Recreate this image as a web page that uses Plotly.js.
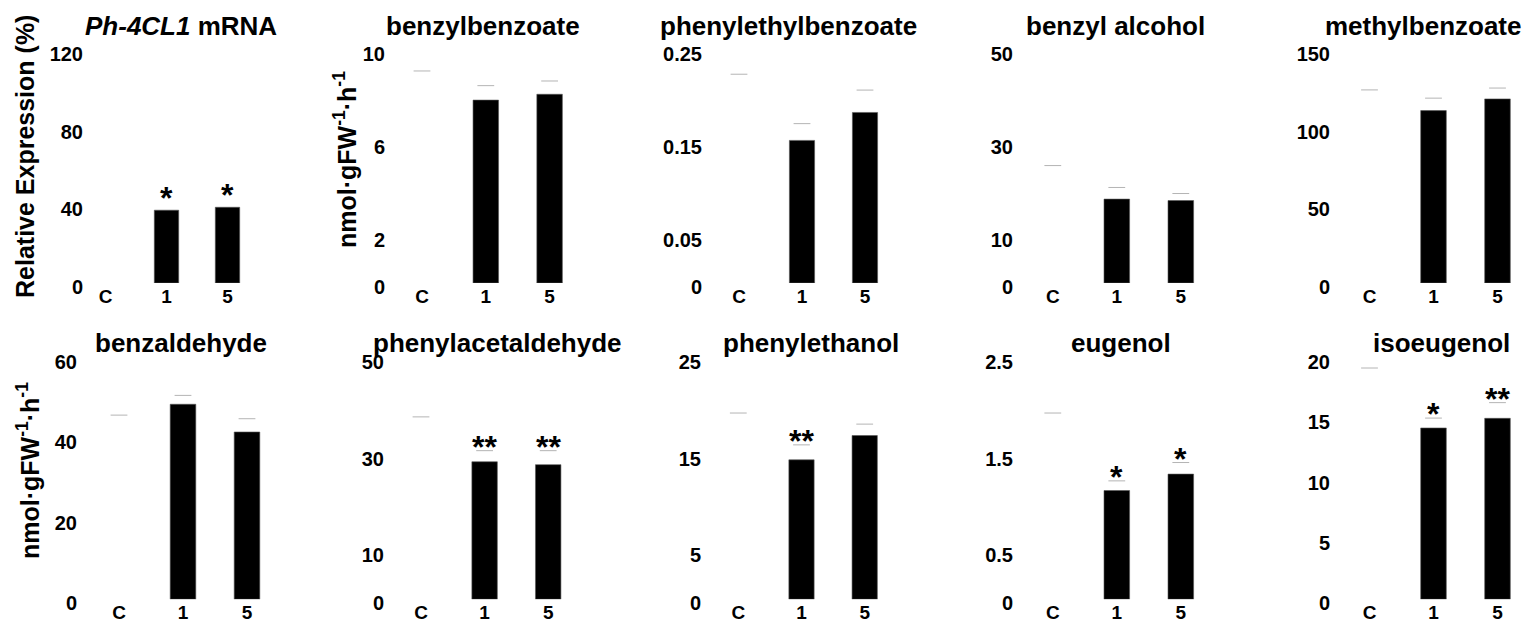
<!DOCTYPE html>
<html><head><meta charset="utf-8">
<script src="https://cdn.plot.ly/plotly-3.0.1.min.js"></script>
<style>html,body{margin:0;padding:0;background:#fff}#chart{width:1526px;height:624px}</style>
</head><body><div id="chart"></div>
<script>
// ---- data ----
const titles = ['<i>Ph-4CL1</i> mRNA','benzylbenzoate','phenylethylbenzoate','benzyl alcohol','methylbenzoate',
                'benzaldehyde','phenylacetaldehyde','phenylethanol','eugenol','isoeugenol'];
const categories = ['C','1','5'];
const meanC = [100, 8.6, 0.200, 22, 117, 42, 35, 17.5, 1.75, 17.5];
const mean1 = [37.5, 7.85, 0.153, 18.0, 111, 48.5, 28.5, 14.45, 1.127, 14.2];
const mean5 = [39, 8.1, 0.183, 17.7, 118.5, 41.6, 27.9, 16.97, 1.297, 15.0];
const errC = [null, 0.5, 0.024, 3.2, 7.3, 3.8, 2.8, 1.8, 0.18, 1.67];
const err1 = [null, 0.62, 0.018, 2.5, 8, 2.2, 2.3, 1.55, 0.1, 0.82];
const err5 = [null, 0.57, 0.024, 1.5, 7, 3.3, 2.9, 1.18, 0.12, 1.3];
const yMax = [120, 10, 0.25, 50, 150, 60, 50, 25, 2.5, 20];
const tickVals = [[0,40,80,120],[0,2,6,10],[0,0.05,0.15,0.25],[0,10,30,50],[0,50,100,150],
                  [0,20,40,60],[0,10,30,50],[0,5,15,25],[0,0.5,1.5,2.5],[0,5,10,15,20]];
const stars1 = ['*','','','','','','**','**','*','*'];
const stars5 = ['*','','','','','','**','','*','**'];
const yTitleRel = 'Relative Expression (%)';
const yTitleRate = 'nmol·gFW<sup>-1</sup>·h<sup>-1</sup>';

// ---- layout geometry (pixels) ----
const W = 1526, H = 624;
const FONT = 'Liberation Sans, Arial, Helvetica, sans-serif';
// [left px, C centre px, category spacing px, right px]
const geo = [
  [84, 105.5, 61, 258], [386, 422, 63.8, 581.5], [703, 739, 63, 896], [1014, 1052.8, 64, 1212.8], [1331, 1369.5, 64, 1526],
  [78, 119, 64, 279], [385, 421, 63.6, 580], [702, 738.3, 63.2, 895], [1014, 1052.8, 64, 1212.8], [1331, 1369.5, 64, 1526]
];
const rowPx = [[283, 50], [599.3, 358]];
const titlePos = [[181,26],[483,26],[788,26],[1115,26],[1423,26],[181,343],[497,343],[811,343],[1121,343],[1441,343]];

const px = x => x / W, py = y => 1 - y / H;

const traces = [];
const layout = {
  width: W, height: H, margin: {l:0, r:0, t:0, b:0},
  paper_bgcolor: '#fff', plot_bgcolor: 'rgba(0,0,0,0)', showlegend: false,
  bargap: 0, annotations: []
};

for (let i = 0; i < 10; i++) {
  const n = i + 1;
  const xa = 'x' + (n === 1 ? '' : n), ya = 'y' + (n === 1 ? '' : n);
  const xk = 'xaxis' + (n === 1 ? '' : n), yk = 'yaxis' + (n === 1 ? '' : n);
  const vals = [meanC[i], mean1[i], mean5[i]];
  const errs = [errC[i], err1[i], err5[i]];
  traces.push({
    type: 'bar', x: categories, y: vals, xaxis: xa, yaxis: ya, width: 0.4,
    marker: {color: ['#ffffff', '#000000', '#000000'], line: {color: ['#ffffff', '#555', '#555'], width: 0.6}},
    hoverinfo: 'x+y'
  });
  const caps = vals.map((v, k) => errs[k] == null ? null : v + errs[k]);
  traces.push({
    type: 'scatter', mode: 'markers', x: categories, y: caps, xaxis: xa, yaxis: ya,
    marker: {symbol: 'line-ew', size: 12, line: {color: '#b4b4b4', width: 1}}, hoverinfo: 'skip'
  });
  const [L, c0, s, R] = geo[i];
  const row = i < 5 ? 0 : 1;
  const [yb, yt] = rowPx[row];
  layout[xk] = {
    domain: [px(L), px(R)], range: [(L - c0) / s, (R - c0) / s], anchor: ya,
    type: 'category', categoryorder: 'array', categoryarray: categories,
    tickvals: categories, ticktext: categories.map(c => '<b>' + c + '</b>'),
    showgrid: false, zeroline: false, showline: false, ticks: '', fixedrange: true,
    tickfont: {family: FONT, size: 19, color: '#000'}
  };
  layout[yk] = {
    domain: [py(yb), py(yt)], range: [0, yMax[i]], anchor: xa,
    tickvals: tickVals[i], ticktext: tickVals[i].map(v => '<b>' + v + '</b>'),
    showgrid: false, zeroline: false, showline: false, ticks: '', fixedrange: true,
    ticklabelshift: 4,
    tickfont: {family: FONT, size: 20, color: '#000'}
  };
  // panel title
  layout.annotations.push({
    xref: 'paper', yref: 'paper', x: px(titlePos[i][0]), y: py(titlePos[i][1]),
    xanchor: 'center', yanchor: 'middle', showarrow: false,
    text: '<b>' + titles[i] + '</b>', font: {family: FONT, size: 26, color: '#000'}
  });
  // significance stars (x given as category index)
  const stars = [null, stars1[i], stars5[i]];
  for (let k = 1; k < 3; k++) {
    if (!stars[k]) continue;
    const base = errs[k] == null ? vals[k] : vals[k] + errs[k];
    layout.annotations.push({
      xref: xa, yref: ya, x: k, y: base, xanchor: 'center', yanchor: 'middle',
      yshift: errs[k] == null ? 12 : 4, showarrow: false,
      text: '<b>' + stars[k] + '</b>', font: {family: FONT, size: 32, color: '#000'}
    });
  }
}

// y-axis titles
[[yTitleRel, 25, 157], [yTitleRate, 345, 160], [yTitleRate, 28, 471]].forEach(([t, x, y]) => {
  layout.annotations.push({
    xref: 'paper', yref: 'paper', x: px(x), y: py(y), xanchor: 'center', yanchor: 'middle',
    textangle: -90, showarrow: false, text: '<b>' + t + '</b>',
    font: {family: FONT, size: 25, color: '#000'}
  });
});

Plotly.newPlot('chart', traces, layout, {displayModeBar: false, staticPlot: true});
</script></body></html>
